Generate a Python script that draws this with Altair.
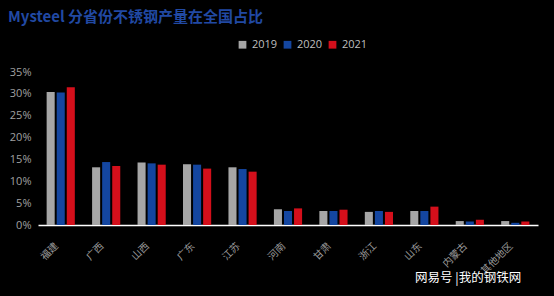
import altair as alt
import pandas as pd

provinces = ["福建", "广西", "山西", "广东", "江苏", "河南", "甘肃", "浙江", "山东", "内蒙古", "其他地区"]
years = ["2019", "2020", "2021"]
share_2019 = [30.4, 13.2, 14.3, 13.9, 13.2, 3.6, 3.2, 3.0, 3.2, 0.9, 0.9]
share_2020 = [30.3, 14.4, 14.1, 13.8, 12.8, 3.2, 3.2, 3.2, 3.2, 0.8, 0.5]
share_2021 = [31.5, 13.5, 13.8, 12.9, 12.2, 3.8, 3.5, 3.0, 4.2, 1.2, 0.8]
y_ticks = [0, 0.05, 0.10, 0.15, 0.20, 0.25, 0.30, 0.35]
title_text = "Mysteel 分省份不锈钢产量在全国占比"
watermark = ["网易号 |我的钢铁网"]

rows = []
for yr, vals in zip(years, [share_2019, share_2020, share_2021]):
    for p, v in zip(provinces, vals):
        rows.append({"province": p, "year": yr, "share": v / 100})
df = pd.DataFrame(rows)

bars = alt.Chart(df).mark_bar().encode(
    x=alt.X("province:N", sort=provinces,
            scale=alt.Scale(paddingInner=0.38, paddingOuter=0.19),
            axis=alt.Axis(title=None, labelAngle=-45, labelColor="#9a9a9a",
                          labelFontSize=10, labelFont="Noto Sans CJK SC",
                          labelPadding=19, labelOffset=-4, ticks=False,
                          domainColor="#ffffff", domainWidth=1.5,
                          labelAlign="right", labelBaseline="middle")),
    xOffset=alt.XOffset("year:N", sort=years,
                        scale=alt.Scale(paddingInner=0.2, paddingOuter=0)),
    y=alt.Y("share:Q",
            scale=alt.Scale(domain=[0, 0.35], nice=False),
            axis=alt.Axis(title=None, format=".0%", values=y_ticks, grid=False,
                          domain=False, ticks=False, labelPadding=7,
                          labelColor="#a0a0a0", labelFontSize=11,
                          labelFont="Open Sans")),
    color=alt.Color("year:N", sort=years,
                    scale=alt.Scale(domain=years, range=["#a6a6a6", "#1446a0", "#d40f1b"]),
                    legend=alt.Legend(title=None, orient="none", direction="horizontal",
                                      legendX=199, legendY=-33, symbolType="square",
                                      symbolSize=60, symbolStrokeWidth=0,
                                      labelColor="#bfbfbf", labelFontSize=11,
                                      labelFont="Open Sans", labelOffset=4,
                                      columnPadding=4)),
)

wm = alt.Chart(pd.DataFrame({"t": watermark})).mark_text(
    color="#ffffff", fontSize=12.5, font="Noto Sans CJK SC", align="left", baseline="middle"
).encode(text="t:N", x=alt.value(377), y=alt.value(206))

chart = alt.layer(bars, wm).properties(
    width=500, height=153,
    autosize=alt.AutoSizeParams(type="none"),
    padding={"left": 38, "top": 72, "right": 16, "bottom": 71},
    background="#000000",
    title=alt.TitleParams(title_text, anchor="start", frame="group", dx=-30, offset=14,
                          color="#2149a3", fontSize=15, font="Noto Sans CJK SC",
                          fontWeight="bold"),
).configure_view(stroke=None)

chart.save("out.html", embed_options={"renderer": "svg", "actions": False})
